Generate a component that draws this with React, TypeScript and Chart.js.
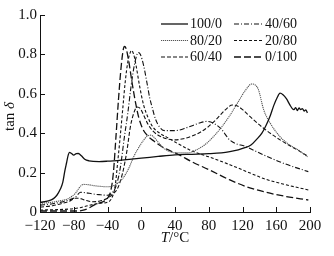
import React, { useEffect, useRef } from 'react';
import { Chart, registerables } from 'chart.js';

Chart.register(...registerables);

// ---- data ----
const X_TICKS = [-120, -80, -40, 0, 40, 80, 120, 160, 200];
const Y_TICKS = [0, 0.2, 0.4, 0.6, 0.8, 1.0];
const SERIES_LABELS = ['100/0', '80/20', '60/40', '40/60', '20/80', '0/100'];

const T_100_0 = [-120, -110, -104, -100, -96, -93, -90.5, -88.5, -86.5, -85, -83, -80, -77, -74.5, -71, -67, -62, -50, -40, -20, 0, 20, 40, 60, 80, 95, 105, 115, 122, 130, 137, 143, 148, 153, 157, 161, 164.5, 168, 172, 176, 179, 181, 183, 185, 187, 189, 191, 193, 195, 197];
const TAN_100_0 = [0.049, 0.056, 0.068, 0.085, 0.115, 0.15, 0.21, 0.25, 0.29, 0.303, 0.298, 0.289, 0.296, 0.297, 0.285, 0.268, 0.26, 0.256, 0.258, 0.265, 0.273, 0.282, 0.29, 0.293, 0.296, 0.3, 0.306, 0.315, 0.325, 0.34, 0.37, 0.4, 0.44, 0.49, 0.54, 0.58, 0.603, 0.595, 0.575, 0.545, 0.525, 0.52, 0.53, 0.515, 0.528, 0.52, 0.525, 0.512, 0.518, 0.503];

const T_80_20 = [-120, -105, -95, -88, -82, -78, -74, -71, -68, -62, -55, -48, -40, -30, -22, -15, -9, -4, 2, 7, 11, 15, 20, 25, 32, 42, 55, 65, 75, 85, 95, 105, 115, 123, 131, 135, 139, 145, 153, 165, 176, 186, 197];
const TAN_80_20 = [0.044, 0.05, 0.058, 0.065, 0.08, 0.095, 0.12, 0.135, 0.14, 0.138, 0.133, 0.13, 0.128, 0.14, 0.17, 0.22, 0.28, 0.32, 0.36, 0.385, 0.39, 0.38, 0.355, 0.33, 0.31, 0.3, 0.3, 0.315, 0.34, 0.38, 0.43, 0.49, 0.56, 0.615, 0.65, 0.645, 0.62, 0.52, 0.45, 0.38, 0.34, 0.315, 0.28];

const T_60_40 = [-120, -105, -95, -85, -78, -72, -65, -58, -50, -40, -34, -28, -22, -17, -13, -9, -5, -1, 3, 8, 14, 20, 30, 40, 50, 60, 70, 80, 90, 100, 108, 114, 120, 130, 145, 165, 185, 197];
const TAN_60_40 = [0.025, 0.032, 0.042, 0.055, 0.07, 0.068, 0.058, 0.052, 0.055, 0.07, 0.09, 0.12, 0.2, 0.31, 0.43, 0.5, 0.533, 0.525, 0.49, 0.445, 0.41, 0.39, 0.372, 0.366, 0.372, 0.385, 0.405, 0.435, 0.475, 0.52, 0.543, 0.538, 0.52, 0.48, 0.425, 0.365, 0.315, 0.285];

const T_40_60 = [-120, -105, -95, -85, -78, -72, -66, -58, -50, -40, -35, -30, -25, -20, -16, -12, -8, -5, -3.5, -1, 3, 7, 10, 13, 17, 22, 28, 40, 55, 68, 78, 86, 95, 105, 125, 145, 170, 198];
const TAN_40_60 = [0.035, 0.042, 0.05, 0.062, 0.075, 0.1, 0.098, 0.092, 0.088, 0.085, 0.095, 0.13, 0.22, 0.38, 0.5, 0.64, 0.75, 0.8, 0.81, 0.8, 0.74, 0.65, 0.58, 0.53, 0.47, 0.43, 0.413, 0.413, 0.43, 0.45, 0.46, 0.45, 0.42, 0.365, 0.33, 0.29, 0.245, 0.205];

const T_20_80 = [-120, -100, -85, -75, -65, -55, -48, -40, -35, -31, -28, -25, -22, -19, -16, -13, -11.5, -9, -6, -2, 3, 8, 14, 22, 30, 40, 60, 80, 105, 125, 145, 170, 198];
const TAN_20_80 = [0.01, 0.012, 0.015, 0.02, 0.03, 0.04, 0.045, 0.05, 0.07, 0.13, 0.25, 0.38, 0.52, 0.66, 0.76, 0.81, 0.82, 0.8, 0.74, 0.64, 0.54, 0.48, 0.43, 0.4, 0.38, 0.355, 0.31, 0.28, 0.24, 0.205, 0.17, 0.14, 0.112];

const T_0_100 = [-120, -90, -80, -70, -62, -56, -50, -44, -40, -36, -33, -30, -27, -24, -21.5, -20, -18, -15, -11, -7, -3, 2, 8, 15, 25, 44, 60, 80, 105, 125, 145, 170, 198];
const TAN_0_100 = [0.005, 0.005, 0.005, 0.008, 0.02, 0.035, 0.045, 0.055, 0.07, 0.11, 0.2, 0.38, 0.57, 0.73, 0.82, 0.84, 0.83, 0.77, 0.66, 0.56, 0.48, 0.42, 0.385, 0.36, 0.33, 0.292, 0.255, 0.215, 0.163, 0.128, 0.103, 0.08, 0.061];

const SERIES_T = [T_100_0, T_80_20, T_60_40, T_40_60, T_20_80, T_0_100];
const SERIES_TAN = [TAN_100_0, TAN_80_20, TAN_60_40, TAN_40_60, TAN_20_80, TAN_0_100];

// ---- styles ----
const STYLES = [
  { color: '#111', dash: [] as number[], width: 1.3 },
  { color: '#555', dash: [1.2, 0.8], width: 1.1 },
  { color: '#111', dash: [4, 2], width: 1.1 },
  { color: '#111', dash: [5, 2, 1, 2], width: 1.1 },
  { color: '#111', dash: [3, 2], width: 1.1 },
  { color: '#111', dash: [7, 3], width: 1.3 },
];

const FONT = '"Liberation Serif", "Times New Roman", serif';

const decorPlugin = {
  id: 'decor',
  afterDraw(chart: any) {
    const ctx = chart.ctx;
    const xs = chart.scales.x;
    const ys = chart.scales.y;
    const area = chart.chartArea;
    ctx.save();
    // inward tick marks
    ctx.strokeStyle = '#111';
    ctx.lineWidth = 1;
    ctx.setLineDash([]);
    ctx.beginPath();
    X_TICKS.forEach((v) => {
      const px = Math.round(xs.getPixelForValue(v)) + 0.5;
      ctx.moveTo(px, area.bottom);
      ctx.lineTo(px, area.bottom - 5);
    });
    Y_TICKS.forEach((v) => {
      const py = Math.round(ys.getPixelForValue(v)) + 0.5;
      ctx.moveTo(area.left, py);
      ctx.lineTo(area.left + 5, py);
    });
    ctx.stroke();

    // axis titles
    ctx.fillStyle = '#111';
    ctx.textBaseline = 'middle';
    const cx = (area.left + area.right) / 2;
    ctx.font = `italic 15px ${FONT}`;
    const wT = ctx.measureText('T').width;
    ctx.font = `15px ${FONT}`;
    const wRest = ctx.measureText('/°C').width;
    const sx = cx - (wT + wRest) / 2;
    ctx.textAlign = 'left';
    ctx.font = `italic 15px ${FONT}`;
    ctx.fillText('T', sx, 238);
    ctx.font = `15px ${FONT}`;
    ctx.fillText('/°C', sx + wT, 238);

    ctx.save();
    ctx.translate(10, (area.top + area.bottom) / 2 + 3);
    ctx.rotate(-Math.PI / 2);
    ctx.font = `15px ${FONT}`;
    const wTan = ctx.measureText('tan ').width;
    ctx.font = `italic 15px ${FONT}`;
    const wD = ctx.measureText('δ').width;
    const ty = -(wTan + wD) / 2;
    ctx.font = `15px ${FONT}`;
    ctx.fillText('tan ', ty, 0);
    ctx.font = `italic 15px ${FONT}`;
    ctx.fillText('δ', ty + wTan, 0);
    ctx.restore();

    // legend (2 columns x 3 rows)
    const rowsY = [23.5, 40, 56.5];
    const cols = [
      { x0: 161, x1: 188, tx: 190 },
      { x0: 234, x1: 262, tx: 265 },
    ];
    ctx.font = `14px ${FONT}`;
    ctx.textAlign = 'left';
    ctx.textBaseline = 'middle';
    chart.data.datasets.forEach((ds: any, i: number) => {
      const col = cols[Math.floor(i / 3)];
      const y = rowsY[i % 3];
      ctx.strokeStyle = ds.borderColor;
      ctx.lineWidth = ds.borderWidth;
      ctx.setLineDash(ds.borderDash || []);
      ctx.beginPath();
      ctx.moveTo(col.x0, y + 0.5);
      ctx.lineTo(col.x1, y + 0.5);
      ctx.stroke();
      ctx.setLineDash([]);
      ctx.fillStyle = '#111';
      ctx.fillText(ds.label, col.tx, y + 1);
    });
    ctx.restore();
  },
};

export default function App() {
  const ref = useRef<HTMLCanvasElement | null>(null);
  useEffect(() => {
    if (!ref.current) return;
    const datasets = SERIES_LABELS.map((label, i) => ({
      label,
      data: SERIES_T[i].map((t, j) => ({ x: t, y: SERIES_TAN[i][j] })),
      borderColor: STYLES[i].color,
      borderDash: STYLES[i].dash,
      borderWidth: STYLES[i].width,
      pointRadius: 0,
      fill: false,
      cubicInterpolationMode: 'monotone' as const,
    }));
    const chart = new Chart(ref.current, {
      type: 'line',
      data: { datasets },
      options: {
        animation: false,
        responsive: false,
        devicePixelRatio: 1,
        layout: { padding: { top: 15, right: 24, left: 0, bottom: 0 } },
        plugins: { legend: { display: false }, tooltip: { enabled: false } },
        scales: {
          x: {
            type: 'linear',
            min: -120,
            max: 200,
            afterBuildTicks: (s: any) => { s.ticks = X_TICKS.map((v) => ({ value: v })); },
            afterFit: (s: any) => { s.height = 44; },
            grid: { display: false, drawTicks: false },
            border: { display: true, color: '#111', width: 1 },
            ticks: {
              padding: 5,
              color: '#111',
              autoSkip: false,
              maxRotation: 0,
              font: { family: FONT, size: 15 },
              callback: (v: any) => (v < 0 ? '\u2212' + Math.abs(v) : String(v)),
            },
          },
          y: {
            type: 'linear',
            min: 0,
            max: 1,
            afterBuildTicks: (s: any) => { s.ticks = Y_TICKS.map((v) => ({ value: v })); },
            afterFit: (s: any) => { s.width = 40; },
            grid: { display: false, drawTicks: false },
            border: { display: true, color: '#111', width: 1 },
            ticks: {
              padding: 3,
              color: '#111',
              autoSkip: false,
              font: { family: FONT, size: 15 },
              callback: (v: any) => (v === 0 ? '0' : Number(v).toFixed(1)),
            },
          },
        },
      },
      plugins: [decorPlugin],
    });
    return () => chart.destroy();
  }, []);
  return (
    <div style={{ position: 'fixed', left: 0, top: 0, width: 334, height: 256, background: '#fff' }}>
      <canvas ref={ref} width={334} height={256} style={{ width: 334, height: 256, display: 'block' }} />
    </div>
  );
}
